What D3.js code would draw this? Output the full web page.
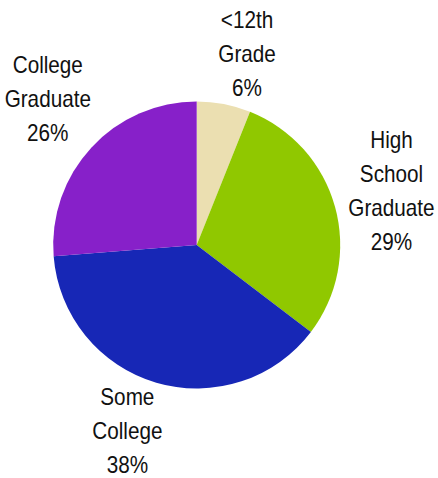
<!DOCTYPE html>
<html><head><meta charset="utf-8">
<script src="https://cdn.jsdelivr.net/npm/d3@7"></script>
<style>html,body{margin:0;padding:0;background:#fff;}</style>
</head><body>
<svg id="chart" width="438" height="478"></svg>
<script>
const categories = [["<12th", "Grade"], ["High", "School", "Graduate"], ["Some", "College"], ["College", "Graduate"]];
const values = [6, 29, 38, 26];
const colors = ["#EBDFB1", "#90C800", "#1727B6", "#8720C9"];

const svg = d3.select("#chart");
const cx = 196.7, cy = 245, R = 143.5;
const g = svg.append("g").attr("transform", `translate(${cx},${cy})`);

// small layout nudges for label placement (dx, dy of middle baseline)
const nudges = [[12.5, 13.4], [2, 7.4], [-13, 2.2], [-2, -2.4]];

const pie = d3.pie().sort(null).value(d => d.v);
const data = pie(values.map((v, i) => ({v, lines: categories[i], c: colors[i], n: nudges[i]})));
const arc = d3.arc().innerRadius(0).outerRadius(R);
const labelArc = d3.arc().innerRadius(200).outerRadius(200);

g.selectAll("path").data(data).join("path")
  .attr("d", arc).attr("fill", d => d.data.c);

const lineH = 34;
const labels = g.selectAll("g.lbl").data(data).join("g").attr("class", "lbl")
  .attr("transform", d => {
    const [x, y] = labelArc.centroid(d);
    return `translate(${x + d.data.n[0]},${y + d.data.n[1]}) scale(0.9,1)`;
  });
labels.each(function(d) {
  const lines = d.data.lines.concat([d.data.v + "%"]);
  const n = lines.length;
  const t = d3.select(this).append("text")
    .attr("font-family", "'Liberation Sans', Arial, sans-serif")
    .attr("font-size", 23)
    .attr("text-anchor", "middle").attr("fill", "#111");
  lines.forEach((s, k) => {
    t.append("tspan").attr("x", 0)
      .attr("y", (k - (n - 1) / 2) * lineH)
      .text(s);
  });
});
</script>
</body></html>
